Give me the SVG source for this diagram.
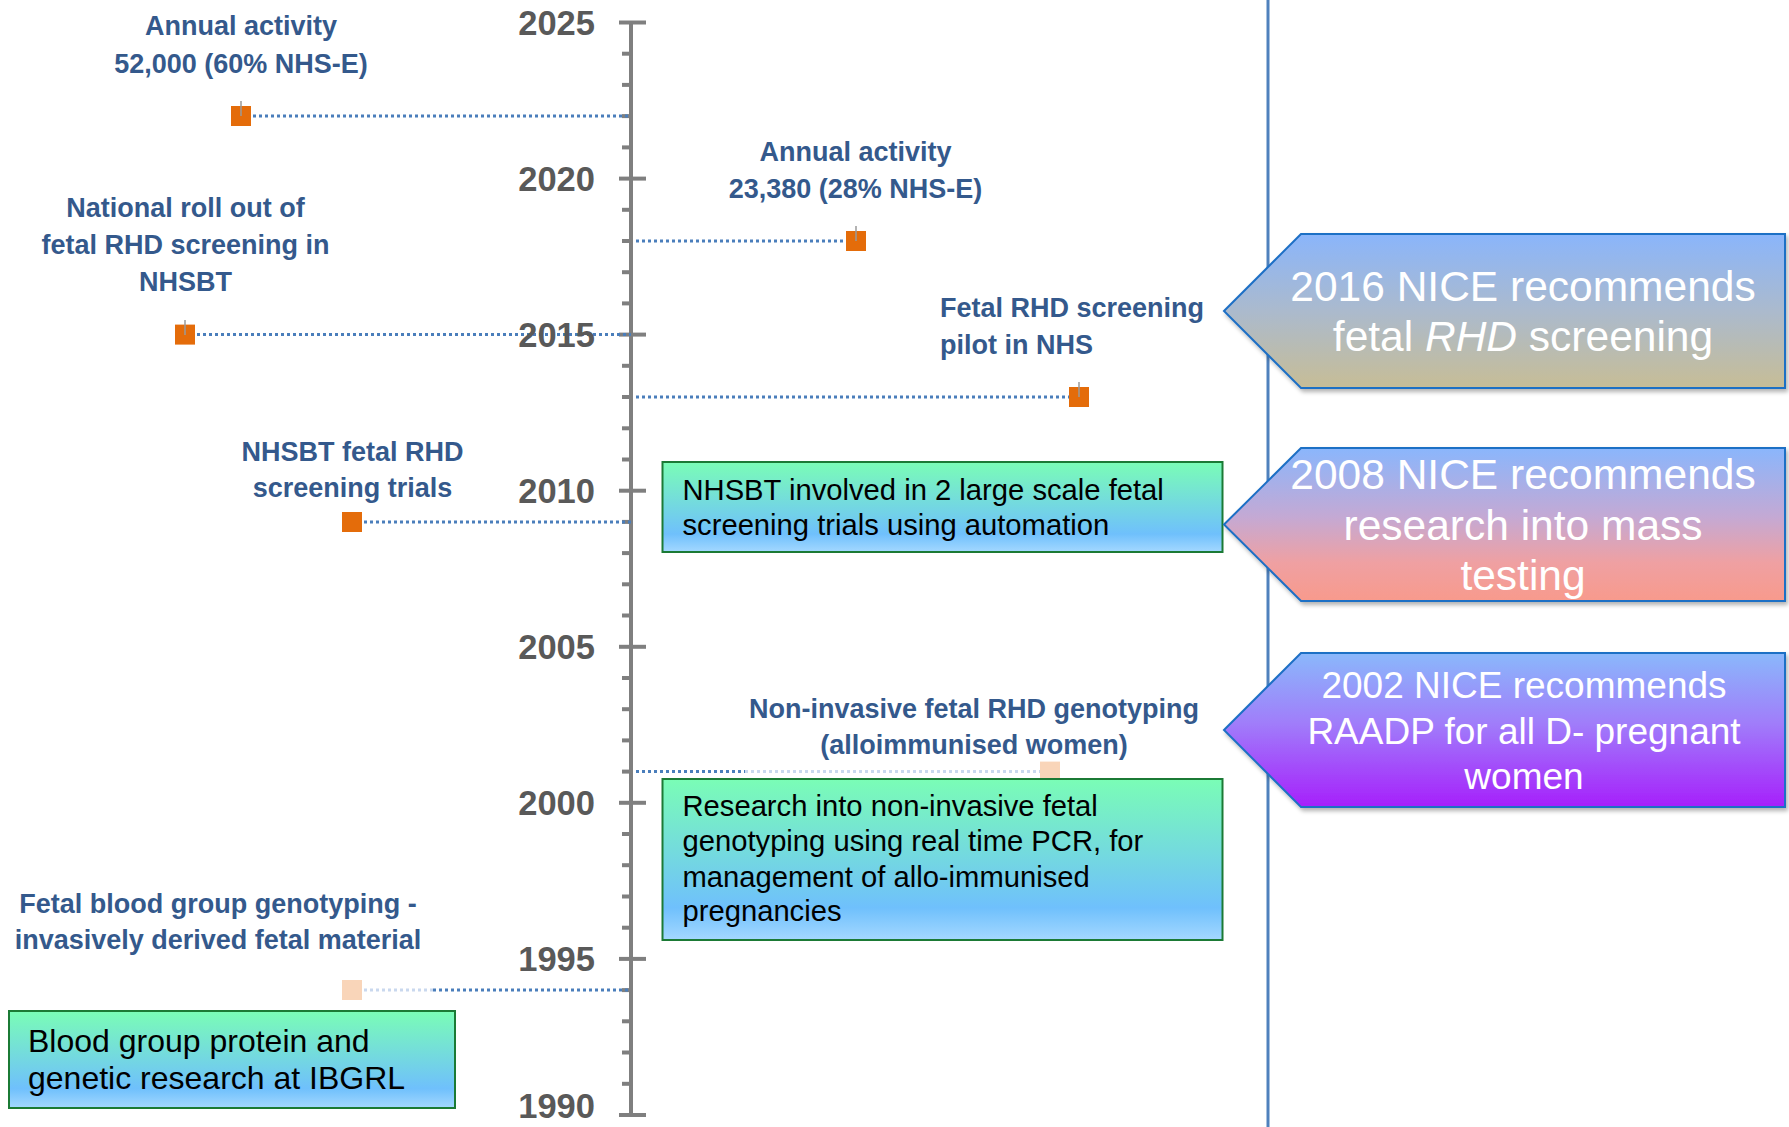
<svg xmlns="http://www.w3.org/2000/svg" width="1789" height="1127" viewBox="0 0 1789 1127">
<defs>
<linearGradient id="gbox" x1="0" y1="0" x2="0" y2="1">
<stop offset="0" stop-color="#7afdb6"/>
<stop offset="0.8" stop-color="#6fc0fc"/>
<stop offset="1" stop-color="#a4d8ff"/>
</linearGradient>
<linearGradient id="g1" x1="0" y1="0" x2="0" y2="1">
<stop offset="0" stop-color="#8ab5fb"/>
<stop offset="0.5" stop-color="#abbacd"/>
<stop offset="1" stop-color="#c7bd96"/>
</linearGradient>
<linearGradient id="g2" x1="0" y1="0" x2="0" y2="1">
<stop offset="0" stop-color="#8ab6fc"/>
<stop offset="0.45" stop-color="#c4a9d4"/>
<stop offset="0.75" stop-color="#efa0a2"/>
<stop offset="1" stop-color="#f89a8c"/>
</linearGradient>
<linearGradient id="g3" x1="0" y1="0" x2="0" y2="1">
<stop offset="0" stop-color="#8ab8fb"/>
<stop offset="0.45" stop-color="#a07efa"/>
<stop offset="1" stop-color="#a620fb"/>
</linearGradient>
<filter id="sh" x="-5%" y="-10%" width="115%" height="130%">
<feDropShadow dx="2" dy="3" stdDeviation="2" flood-color="#000" flood-opacity="0.3"/>
</filter>
</defs>
<style>
.axis{stroke:#7f7f7f;stroke-width:4;fill:none}
.tk{stroke:#7f7f7f;stroke-width:4}
.yr{font-family:"Liberation Sans",Arial,sans-serif;font-weight:bold;font-size:34.5px;fill:#595959;text-anchor:end}
.dot{stroke:#4a7ebb;stroke-width:3;stroke-dasharray:3 3;fill:none}
.fdot{stroke:#c9d8ee;stroke-width:3;stroke-dasharray:3 3;fill:none}
.mk{fill:#e46c0a}
.fmk{fill:#f9d5b9}
.wh{stroke:#9a9a9a;stroke-width:1.5}
.lb{font-family:"Liberation Sans",Arial,sans-serif;font-weight:bold;font-size:27px;fill:#34598c}
.c{text-anchor:middle}
.box{fill:url(#gbox);stroke:#1b7a35;stroke-width:2}
.bt{font-family:"Liberation Sans",Arial,sans-serif;font-size:29.2px;fill:#000}
.pen{stroke:#1f6fc5;stroke-width:2;filter:url(#sh)}
.pt{font-family:"Liberation Sans",Arial,sans-serif;fill:#fff;text-anchor:middle}
</style>
<rect width="1789" height="1127" fill="#fff"/>

<line x1="1268" y1="0" x2="1268" y2="1127" stroke="#4f81bd" stroke-width="3"/>

<g id="axis">
<line class="axis" x1="631" y1="22.5" x2="631" y2="1115"/>
<g class="tk">
<line x1="619" y1="22.5" x2="646" y2="22.5"/>
<line x1="619" y1="178.6" x2="646" y2="178.6"/>
<line x1="619" y1="334.6" x2="646" y2="334.6"/>
<line x1="619" y1="490.7" x2="646" y2="490.7"/>
<line x1="619" y1="646.8" x2="646" y2="646.8"/>
<line x1="619" y1="802.8" x2="646" y2="802.8"/>
<line x1="619" y1="958.9" x2="646" y2="958.9"/>
<line x1="619" y1="1115" x2="646" y2="1115"/>
</g>
<g class="tk">
<line x1="622" y1="53.7" x2="631" y2="53.7"/>
<line x1="622" y1="84.9" x2="631" y2="84.9"/>
<line x1="622" y1="116.1" x2="631" y2="116.1"/>
<line x1="622" y1="147.4" x2="631" y2="147.4"/>
<line x1="622" y1="209.8" x2="631" y2="209.8"/>
<line x1="622" y1="241" x2="631" y2="241"/>
<line x1="622" y1="272.2" x2="631" y2="272.2"/>
<line x1="622" y1="303.4" x2="631" y2="303.4"/>
<line x1="622" y1="365.8" x2="631" y2="365.8"/>
<line x1="622" y1="397" x2="631" y2="397"/>
<line x1="622" y1="428.3" x2="631" y2="428.3"/>
<line x1="622" y1="459.5" x2="631" y2="459.5"/>
<line x1="622" y1="521.9" x2="631" y2="521.9"/>
<line x1="622" y1="553.1" x2="631" y2="553.1"/>
<line x1="622" y1="584.3" x2="631" y2="584.3"/>
<line x1="622" y1="615.5" x2="631" y2="615.5"/>
<line x1="622" y1="678" x2="631" y2="678"/>
<line x1="622" y1="709.2" x2="631" y2="709.2"/>
<line x1="622" y1="740.4" x2="631" y2="740.4"/>
<line x1="622" y1="771.6" x2="631" y2="771.6"/>
<line x1="622" y1="834" x2="631" y2="834"/>
<line x1="622" y1="865.2" x2="631" y2="865.2"/>
<line x1="622" y1="896.5" x2="631" y2="896.5"/>
<line x1="622" y1="927.7" x2="631" y2="927.7"/>
<line x1="622" y1="990.1" x2="631" y2="990.1"/>
<line x1="622" y1="1021.3" x2="631" y2="1021.3"/>
<line x1="622" y1="1052.5" x2="631" y2="1052.5"/>
<line x1="622" y1="1083.8" x2="631" y2="1083.8"/>
</g>
</g>

<g id="connectors">
<line class="dot" x1="241" y1="116.1" x2="631" y2="116.1"/>
<line class="dot" x1="636" y1="241" x2="856" y2="241"/>
<line class="dot" x1="185" y1="334.6" x2="631" y2="334.6"/>
<line class="dot" x1="636" y1="397" x2="1079" y2="397"/>
<line class="dot" x1="352" y1="521.9" x2="631" y2="521.9"/>
<line class="dot" x1="636" y1="771.6" x2="745" y2="771.6"/>
<line class="fdot" x1="745" y1="771.6" x2="1050" y2="771.6"/>
<line class="fdot" x1="352" y1="990" x2="433" y2="990"/>
<line class="dot" x1="433" y1="990" x2="631" y2="990"/>
</g>

<g id="year-labels">
<text class="yr" x="595" y="35">2025</text>
<text class="yr" x="595" y="191">2020</text>
<text class="yr" x="595" y="347">2015</text>
<text class="yr" x="595" y="503">2010</text>
<text class="yr" x="595" y="659">2005</text>
<text class="yr" x="595" y="815">2000</text>
<text class="yr" x="595" y="971">1995</text>
<text class="yr" x="595" y="1118">1990</text>
</g>

<g id="m2022">
<rect class="mk" x="231" y="106" width="20" height="20"/>
<line class="wh" x1="241" y1="101" x2="241" y2="116"/>
<text class="lb c" x="241" y="35">Annual activity</text>
<text class="lb c" x="241" y="72.5">52,000 (60% NHS-E)</text>
</g>

<g id="m2018">
<rect class="mk" x="846" y="231" width="20" height="20"/>
<line class="wh" x1="856" y1="226" x2="856" y2="241"/>
<text class="lb c" x="855.5" y="160.5">Annual activity</text>
<text class="lb c" x="855.5" y="197.5">23,380 (28% NHS-E)</text>
</g>

<g id="m2015">
<rect class="mk" x="175" y="324.6" width="20" height="20"/>
<line class="wh" x1="185" y1="320" x2="185" y2="335"/>
<text class="lb c" x="185.5" y="216.5">National roll out of</text>
<text class="lb c" x="185.5" y="253.5">fetal RHD screening in</text>
<text class="lb c" x="185.5" y="290.5">NHSBT</text>
</g>

<g id="m2013">
<rect class="mk" x="1069" y="387" width="20" height="20"/>
<line class="wh" x1="1079" y1="382" x2="1079" y2="397"/>
<text class="lb" x="940" y="317">Fetal RHD screening</text>
<text class="lb" x="940" y="353.5">pilot in NHS</text>
</g>

<g id="m2009">
<rect class="mk" x="342" y="512" width="20" height="20"/>
<text class="lb c" x="352.5" y="460.5">NHSBT fetal RHD</text>
<text class="lb c" x="352.5" y="497">screening trials</text>
</g>

<g id="m2001">
<rect class="fmk" x="1040" y="761.6" width="20" height="20"/>
<text class="lb c" x="974" y="717.5">Non-invasive fetal RHD genotyping</text>
<text class="lb c" x="974" y="753.5">(alloimmunised women)</text>
</g>

<g id="m1994">
<rect class="fmk" x="342" y="980" width="20" height="20"/>
<text class="lb c" x="218" y="912.5">Fetal blood group genotyping -</text>
<text class="lb c" x="218" y="949">invasively derived fetal material</text>
</g>

<g id="box-trials">
<rect class="box" x="662.5" y="462" width="560" height="90"/>
<text class="bt" x="682.5" y="500">NHSBT involved in 2 large scale fetal</text>
<text class="bt" x="682.5" y="534.5">screening trials using automation</text>
</g>

<g id="box-research">
<rect class="box" x="662.5" y="779" width="560" height="161"/>
<text class="bt" x="682.5" y="816">Research into non-invasive fetal</text>
<text class="bt" x="682.5" y="851">genotyping using real time PCR, for</text>
<text class="bt" x="682.5" y="886.5">management of allo-immunised</text>
<text class="bt" x="682.5" y="921">pregnancies</text>
</g>

<g id="box-ibgrl">
<rect class="box" x="9" y="1011" width="446" height="97"/>
<text class="bt" x="28" y="1052" style="font-size:32px">Blood group protein and</text>
<text class="bt" x="28" y="1089" style="font-size:32px">genetic research at IBGRL</text>
</g>

<g id="nice-2016">
<path class="pen" fill="url(#g1)" d="M1224,311 L1301,234 L1785,234 L1785,388 L1301,388 Z"/>
<text class="pt" x="1523" y="300.5" style="font-size:42.5px">2016 NICE recommends</text>
<text class="pt" x="1523" y="351" style="font-size:42.5px">fetal <tspan font-style="italic">RHD</tspan> screening</text>
</g>

<g id="nice-2008">
<path class="pen" fill="url(#g2)" d="M1224,524.5 L1301,448 L1785,448 L1785,601 L1301,601 Z"/>
<text class="pt" x="1523" y="489" style="font-size:42.5px">2008 NICE recommends</text>
<text class="pt" x="1523" y="540" style="font-size:42.5px">research into mass</text>
<text class="pt" x="1523" y="590" style="font-size:42.5px">testing</text>
</g>

<g id="nice-2002">
<path class="pen" fill="url(#g3)" d="M1224,730 L1301,653 L1785,653 L1785,807 L1301,807 Z"/>
<text class="pt" x="1524" y="698" style="font-size:37px">2002 NICE recommends</text>
<text class="pt" x="1524" y="744" style="font-size:37px">RAADP for all D- pregnant</text>
<text class="pt" x="1524" y="789" style="font-size:37px">women</text>
</g>
</svg>
